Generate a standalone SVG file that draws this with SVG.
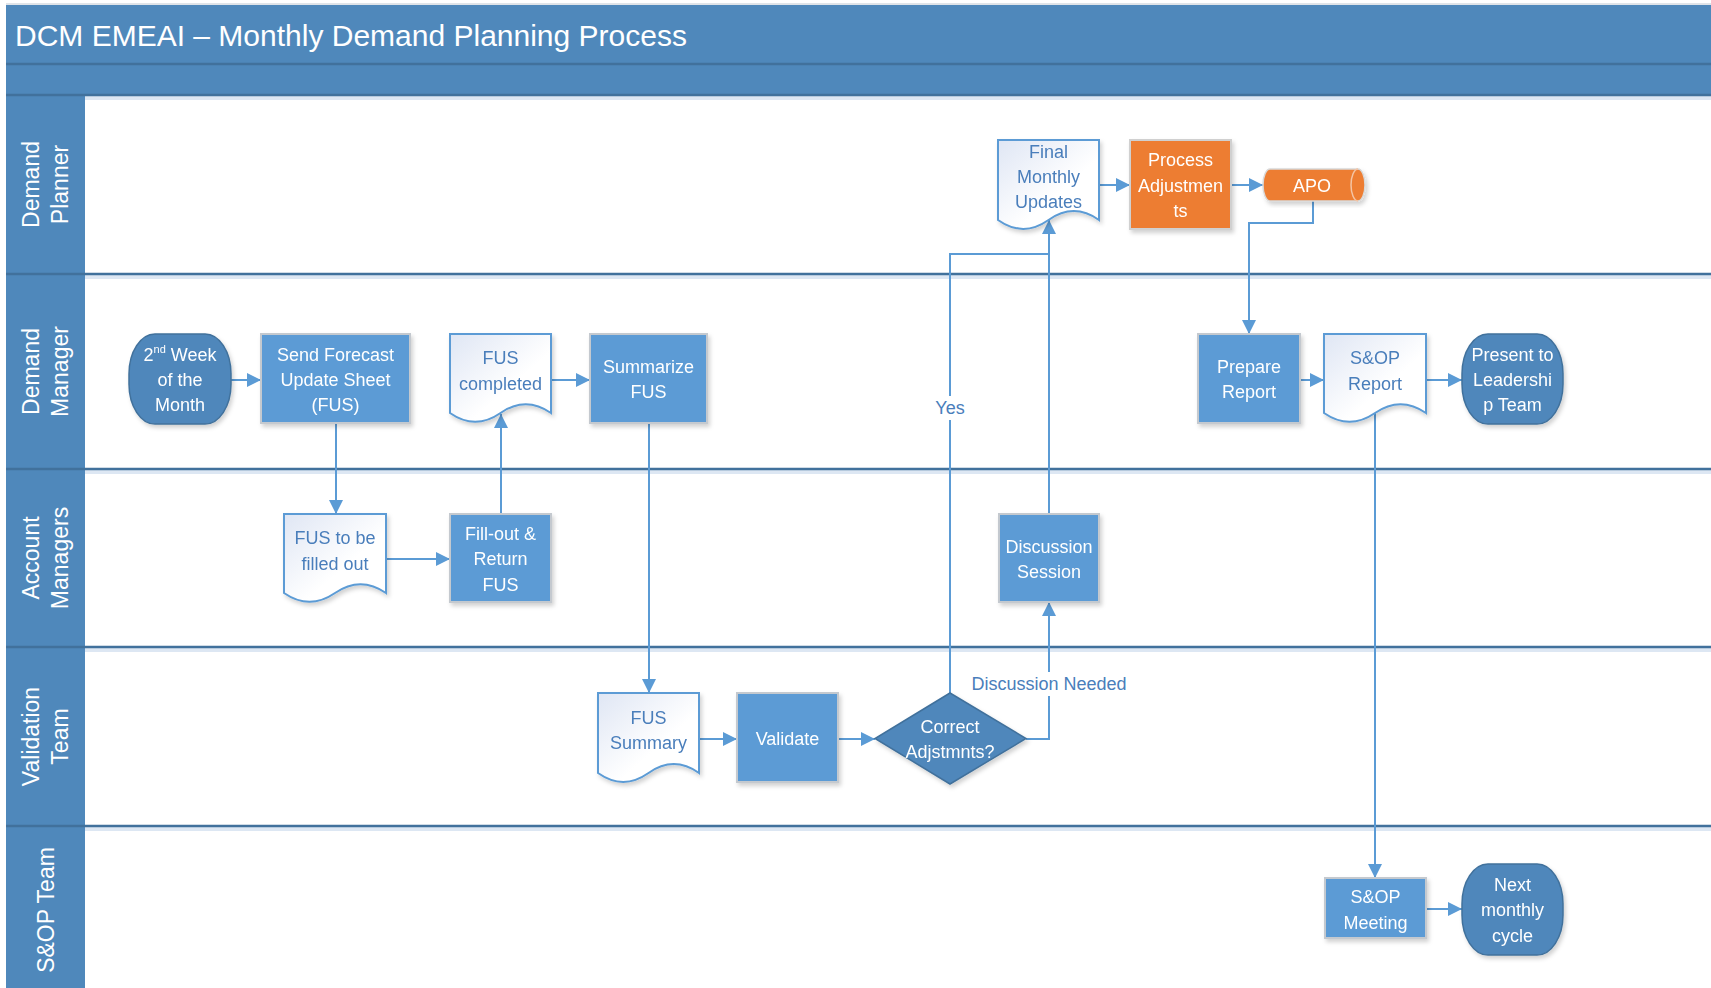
<svg xmlns="http://www.w3.org/2000/svg" width="1711" height="988" viewBox="0 0 1711 988">
<defs>
<style>
.t{font-family:"Liberation Sans",Arial,sans-serif;font-size:18px;text-anchor:middle;fill:#ffffff}
.td{fill:#4a7ebb}
.lane{font-family:"Liberation Sans",Arial,sans-serif;font-size:23px;text-anchor:middle;fill:#ffffff}
.title{font-family:"Liberation Sans",Arial,sans-serif;font-size:30px;fill:#ffffff}
.proc{fill:#5b9bd5;stroke:#c4c9cf;stroke-width:2}
.orange{fill:#ed7d31;stroke:#d0d0d0;stroke-width:2}
.term{fill:#4f87bb;stroke:#41719c;stroke-width:1.5}
.doc{fill:url(#docg);stroke:#5b9bd5;stroke-width:2}
.con{fill:none;stroke:#5b9bd5;stroke-width:2}
.arr{marker-end:url(#ah)}
.lbl{fill:#ffffff}
.lline{stroke:#41719c;stroke-width:2.5}
.lsh{stroke:#dde7f3;stroke-width:4}
</style>
<marker id="ah" markerUnits="userSpaceOnUse" markerWidth="15" markerHeight="14" refX="14" refY="7" orient="auto">
<path d="M0,0 L14,7 L0,14 Z" fill="#5b9bd5"/>
</marker>
<linearGradient id="docg" x1="0" y1="0" x2="1" y2="1">
<stop offset="0" stop-color="#dfe6f4"/>
<stop offset="0.6" stop-color="#ffffff"/>
</linearGradient>
<filter id="sh" x="-10%" y="-10%" width="125%" height="130%">
<feDropShadow dx="2" dy="3" stdDeviation="2" flood-color="#000000" flood-opacity="0.18"/>
</filter>
</defs>

<g id="swimlanes">
<rect x="6" y="5" width="1705" height="90" fill="#4f88bb"/>
<line x1="6" y1="4" x2="1711" y2="4" stroke="#c0c8d2" stroke-width="1"/>
<line x1="6" y1="64" x2="1711" y2="64" class="lline" stroke-width="2"/>
<rect x="6" y="95" width="79" height="893" fill="#4f88bb"/>
<line x1="85" y1="98" x2="1711" y2="98" class="lsh"/>
<line x1="85" y1="277" x2="1711" y2="277" class="lsh"/>
<line x1="85" y1="472" x2="1711" y2="472" class="lsh"/>
<line x1="85" y1="650" x2="1711" y2="650" class="lsh"/>
<line x1="85" y1="829" x2="1711" y2="829" class="lsh"/>
<line x1="6" y1="95" x2="1711" y2="95" class="lline"/>
<line x1="6" y1="274" x2="1711" y2="274" class="lline"/>
<line x1="6" y1="469" x2="1711" y2="469" class="lline"/>
<line x1="6" y1="647" x2="1711" y2="647" class="lline"/>
<line x1="6" y1="826" x2="1711" y2="826" class="lline"/>
<text class="title" x="15" y="46">DCM EMEAI – Monthly Demand Planning Process</text>
<g transform="translate(45.5,184.5) rotate(-90)"><text class="lane" y="-6.5">Demand</text><text class="lane" y="22.5">Planner</text></g>
<g transform="translate(45.5,371.5) rotate(-90)"><text class="lane" y="-6.5">Demand</text><text class="lane" y="22.5">Manager</text></g>
<g transform="translate(45.5,558) rotate(-90)"><text class="lane" y="-6.5">Account</text><text class="lane" y="22.5">Managers</text></g>
<g transform="translate(45.5,736.5) rotate(-90)"><text class="lane" y="-6.5">Validation</text><text class="lane" y="22.5">Team</text></g>
<g transform="translate(45.5,910) rotate(-90)"><text class="lane" y="8">S&amp;OP Team</text></g>
</g>

<g id="connectors">
<path class="con arr" d="M231,380 H261"/>
<path class="con arr" d="M336,423 V514"/>
<path class="con arr" d="M386,559 H450"/>
<path class="con arr" d="M501,514 V414"/>
<path class="con arr" d="M551,380 H590"/>
<path class="con arr" d="M649,423 V693"/>
<path class="con arr" d="M699,739 H737"/>
<path class="con arr" d="M838,739 H875"/>
<path class="con arr" d="M1026,739 H1049 V602"/>
<path class="con" d="M950,693 V254 H1049"/>
<path class="con arr" d="M1049,514 V220"/>
<path class="con arr" d="M1099,185 H1130"/>
<path class="con arr" d="M1231,185 H1263"/>
<path class="con arr" d="M1313,201 V223 H1249 V334"/>
<path class="con arr" d="M1300,380 H1324"/>
<path class="con arr" d="M1426,380 H1462"/>
<path class="con arr" d="M1375,413 V878"/>
<path class="con arr" d="M1426,909 H1462"/>
<rect class="lbl" x="932" y="396" width="36" height="24"/>
<text class="t td" x="950" y="414">Yes</text>
<rect class="lbl" x="968" y="672" width="162" height="24"/>
<text class="t td" x="1049" y="690">Discussion Needed</text>
</g>

<g id="n-start" filter="url(#sh)">
<rect class="term" x="129" y="334" width="102" height="90" rx="26" ry="40"/>
<text class="t" x="180" y="361">2<tspan font-size="11" dy="-8">nd</tspan><tspan dy="8"> Week</tspan></text>
<text class="t" x="180" y="386">of the</text>
<text class="t" x="180" y="411">Month</text>
</g>
<g id="n-send" filter="url(#sh)">
<rect class="proc" x="261" y="334" width="149" height="89"/>
<text class="t" x="335.5" y="361">Send Forecast</text>
<text class="t" x="335.5" y="386">Update Sheet</text>
<text class="t" x="335.5" y="411">(FUS)</text>
</g>
<g id="n-fus-completed" filter="url(#sh)">
<path class="doc" d="M450,334 H551 V413 Q525.75,395.4 500.5,413 Q475.25,430.6 450,413 Z"/>
<text class="t td" x="500.5" y="364">FUS</text>
<text class="t td" x="500.5" y="390">completed</text>
</g>
<g id="n-summarize" filter="url(#sh)">
<rect class="proc" x="590" y="334" width="117" height="89"/>
<text class="t" x="648.5" y="373">Summarize</text>
<text class="t" x="648.5" y="398">FUS</text>
</g>
<g id="n-fus-tobefilled" filter="url(#sh)">
<path class="doc" d="M284,514 H386 V593 Q360.5,575.4 335,593 Q309.5,610.6 284,593 Z"/>
<text class="t td" x="335" y="544">FUS to be</text>
<text class="t td" x="335" y="570">filled out</text>
</g>
<g id="n-fillout" filter="url(#sh)">
<rect class="proc" x="450" y="514" width="101" height="88"/>
<text class="t" x="500.5" y="540">Fill-out &amp;</text>
<text class="t" x="500.5" y="565">Return</text>
<text class="t" x="500.5" y="591">FUS</text>
</g>
<g id="n-fus-summary" filter="url(#sh)">
<path class="doc" d="M598,693 H699 V773 Q673.75,755.2 648.5,773 Q623.25,790.8 598,773 Z"/>
<text class="t td" x="648.5" y="724">FUS</text>
<text class="t td" x="648.5" y="749">Summary</text>
</g>
<g id="n-validate" filter="url(#sh)">
<rect class="proc" x="737" y="693" width="101" height="89"/>
<text class="t" x="787.5" y="745">Validate</text>
</g>
<g id="n-decision" filter="url(#sh)">
<polygon class="term" points="950,693 1026,738.5 950,784 875,738.5"/>
<text class="t" x="950" y="733">Correct</text>
<text class="t" x="950" y="758">Adjstmnts?</text>
</g>
<g id="n-discussion" filter="url(#sh)">
<rect class="proc" x="999" y="514" width="100" height="88"/>
<text class="t" x="1049" y="553">Discussion</text>
<text class="t" x="1049" y="578">Session</text>
</g>
<g id="n-final" filter="url(#sh)">
<path class="doc" d="M998,140 H1099 V220 Q1073.75,202.2 1048.5,220 Q1023.25,237.8 998,220 Z"/>
<text class="t td" x="1048.5" y="158">Final</text>
<text class="t td" x="1048.5" y="183">Monthly</text>
<text class="t td" x="1048.5" y="208">Updates</text>
</g>
<g id="n-process-adj" filter="url(#sh)">
<rect class="orange" x="1130" y="140" width="101" height="89"/>
<text class="t" x="1180.5" y="165.5">Process</text>
<text class="t" x="1180.5" y="191.5">Adjustmen</text>
<text class="t" x="1180.5" y="216.5">ts</text>
</g>
<g id="n-apo" filter="url(#sh)">
<path d="M1270,169 H1358 A7,16 0 0 1 1358,201 H1270 A7,16 0 0 1 1270,169 Z" fill="#ed7d31" stroke="#d9d9d9" stroke-width="1.5"/>
<path d="M1358,169 A7,16 0 0 0 1358,201" fill="none" stroke="#f4c4a4" stroke-width="1.5"/>
<text class="t" x="1312" y="192">APO</text>
</g>
<g id="n-prepare" filter="url(#sh)">
<rect class="proc" x="1198" y="334" width="102" height="89"/>
<text class="t" x="1249" y="373">Prepare</text>
<text class="t" x="1249" y="398">Report</text>
</g>
<g id="n-sop-report" filter="url(#sh)">
<path class="doc" d="M1324,334 H1426 V413 Q1400.5,395.4 1375,413 Q1349.5,430.6 1324,413 Z"/>
<text class="t td" x="1375" y="364">S&amp;OP</text>
<text class="t td" x="1375" y="390">Report</text>
</g>
<g id="n-present" filter="url(#sh)">
<rect class="term" x="1462" y="334" width="101" height="90" rx="26" ry="40"/>
<text class="t" x="1512.5" y="361">Present to</text>
<text class="t" x="1512.5" y="386">Leadershi</text>
<text class="t" x="1512.5" y="411">p Team</text>
</g>
<g id="n-sop-meeting" filter="url(#sh)">
<rect class="proc" x="1325" y="878" width="101" height="60"/>
<text class="t" x="1375.5" y="903">S&amp;OP</text>
<text class="t" x="1375.5" y="929">Meeting</text>
</g>
<g id="n-next" filter="url(#sh)">
<rect class="term" x="1462" y="864" width="101" height="91" rx="26" ry="40"/>
<text class="t" x="1512.5" y="891">Next</text>
<text class="t" x="1512.5" y="916">monthly</text>
<text class="t" x="1512.5" y="942">cycle</text>
</g>
</svg>
